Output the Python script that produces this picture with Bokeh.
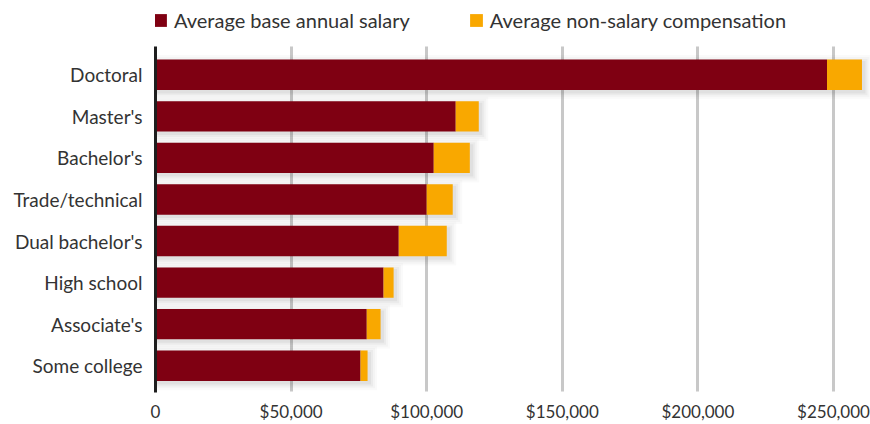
from bokeh.plotting import figure
from bokeh.models import (ColumnDataSource, Range1d, Legend, LegendItem,
                          FixedTicker, NumeralTickFormatter)
from bokeh.embed import file_html
from bokeh.resources import INLINE

# ---- data (top to bottom as in the chart) ----
categories = ["Doctoral", "Master's", "Bachelor's", "Trade/technical",
              "Dual bachelor's", "High school", "Associate's", "Some college"]
base_salary = [247600, 110700, 102600, 100000, 89700, 84100, 77900, 75600]
non_salary = [12900, 8500, 13300, 9600, 17700, 3700, 5100, 2600]
x_ticks = [0, 50000, 100000, 150000, 200000, 250000]
series_labels = ["Average base annual salary", "Average non-salary compensation"]
colors = ["#7f0012", "#f9a800"]

FONT = "Lato"
X_END = 263640
Y_START, Y_END = -0.643, 8.786   # room above the bars for the legend
Y_AXIS_TOP = 7.69

n = len(categories)
pos = [n - 1 - i for i in range(n)]          # Doctoral on top
totals = [b + e for b, e in zip(base_salary, non_salary)]
source = ColumnDataSource(dict(pos=pos, base=base_salary, extra=non_salary, total=totals))

p = figure(width=870, height=424, y_range=Range1d(Y_START, Y_END), x_range=Range1d(0, X_END),
           output_backend="svg", toolbar_location=None,
           min_border_left=155, min_border_right=0, min_border_top=0, min_border_bottom=28)
p.outline_line_color = None
p.background_fill_color = "white"

# soft shadow layers
px_x = X_END / 715.0
for k, a in [(7, 0.018), (5, 0.025), (3, 0.035), (1, 0.045)]:
    p.hbar(y="pos", left=0, right="total", height=0.73 + 2 * k / 42.0,
           source=ColumnDataSource(dict(pos=[v - 2.5 / 42 for v in pos],
                                        total=[t + (2.5 + k) * px_x for t in totals])),
           fill_color="#000000", fill_alpha=a, line_color=None)

renderers = p.hbar_stack(["base", "extra"], y="pos", height=0.73, color=colors,
                         line_color=None, source=source)

legend = Legend(items=[LegendItem(label=series_labels[i], renderers=[renderers[i]])
                       for i in range(2)],
                orientation="horizontal", location=(-3, 360))
legend.label_text_font = FONT
legend.label_text_font_size = "20px"
legend.label_text_color = "#333333"
legend.label_height = 20
legend.glyph_width = 16
legend.glyph_height = 16
legend.label_standoff = 6
legend.spacing = 58
legend.padding = 0
legend.margin = 0
legend.border_line_color = None
legend.background_fill_alpha = 0
p.add_layout(legend, "center")

# axes
xa = p.xaxis[0]
xa.ticker = FixedTicker(ticks=x_ticks)
xa.formatter = NumeralTickFormatter(format="$0,0")
xa.major_label_overrides = {0: "0"}
xa.axis_line_color = None
xa.major_tick_line_color = None
xa.minor_tick_line_color = None
xa.major_tick_out = 0
xa.major_tick_in = 0
xa.major_label_standoff = 8
xa.major_label_text_font = FONT
xa.major_label_text_font_size = "17px"
xa.major_label_text_color = "#333333"

ya = p.yaxis[0]
ya.ticker = FixedTicker(ticks=pos)
ya.major_label_overrides = {v: c for v, c in zip(pos, categories)}
ya.bounds = (Y_START, Y_AXIS_TOP)
ya.axis_line_color = "#1e1e1e"
ya.axis_line_width = 3
ya.major_tick_line_color = None
ya.minor_tick_line_color = None
ya.major_tick_out = 0
ya.major_tick_in = 0
ya.major_label_standoff = 13
ya.major_label_text_font = FONT
ya.major_label_text_font_size = "19px"
ya.major_label_text_color = "#333333"

p.xgrid.grid_line_color = "#c8c8c8"
p.xgrid.grid_line_width = 3
p.xgrid.cross_bounds = (Y_START + 0.02, Y_AXIS_TOP)
p.ygrid.grid_line_color = None

open("out.html", "w").write(file_html(p, INLINE))
